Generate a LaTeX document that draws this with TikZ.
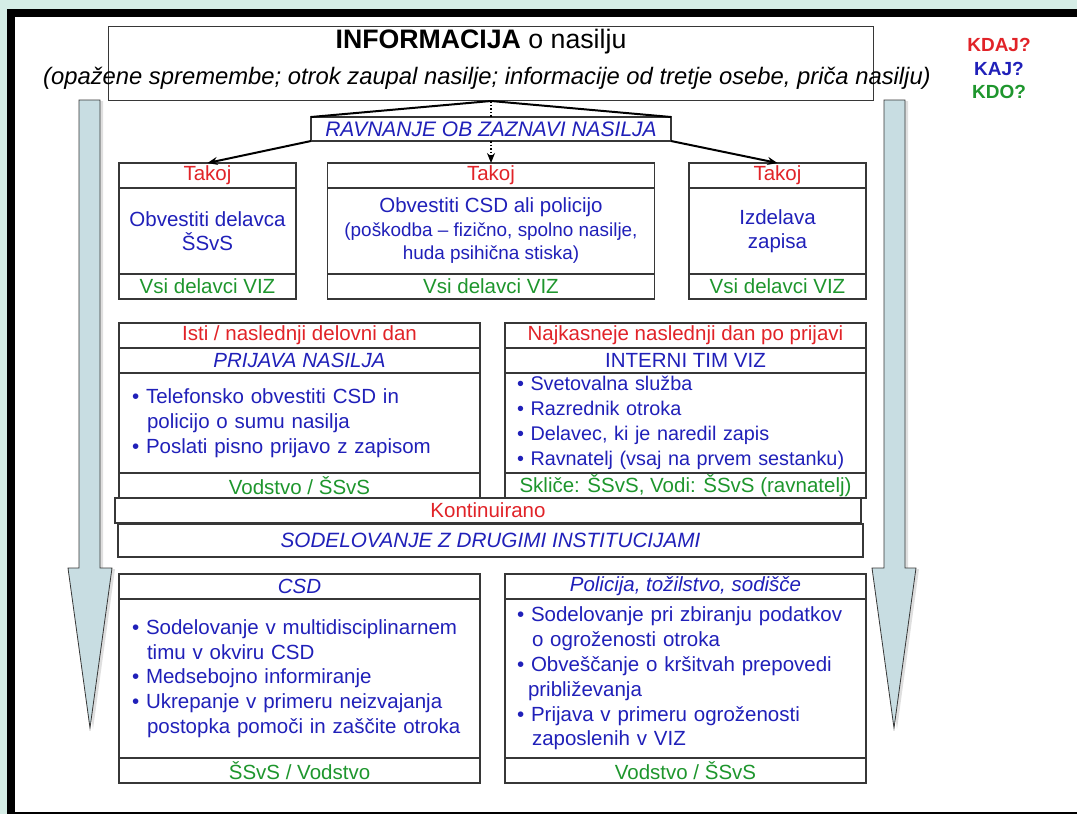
\documentclass[tikz,border=0pt]{standalone}
\usepackage{fontspec}
\setmainfont{Liberation Sans}
\usetikzlibrary{positioning, arrows.meta, shadows}
\definecolor{bgcol}{RGB}{213,237,230}
\definecolor{linecol}{RGB}{55,55,55}
\definecolor{whencol}{RGB}{225,35,40}
\definecolor{whatcol}{RGB}{32,32,185}
\definecolor{whocol}{RGB}{30,150,45}
\definecolor{arrowcol}{RGB}{200,221,226}
\newcommand{\cellsize}{\fontsize{20.5}{24.8}\selectfont}
\newcommand{\listsize}{\fontsize{19.8}{24.8}\selectfont}
\newcommand{\mainsize}{\fontsize{20.5}{23.5}\selectfont}
\newcommand{\smallsize}{\fontsize{18.9}{22.5}\selectfont}
\newcommand{\bitem}{\textbullet\ }
\newcommand{\contline}{\hspace*{15pt}}
\hyphenpenalty=10000

\begin{document}
\begin{tikzpicture}[
			x=1pt, y=-1pt,
			cell/.style={
				draw=linecol,
				line width=1.1pt,
				fill=white,
				inner sep=0pt,
				outer sep=0pt,
				font=\cellsize,
				align=center
			},
			when/.style={cell, text=whencol, minimum height=25pt},
			what/.style={cell, text=whatcol},
			who/.style={cell, text=whocol, minimum height=25pt},
			list/.style={what, align=left, inner xsep=13pt},
			flow/.style={
				-{Stealth[length=10pt, width=8pt]},
				line width=2pt
			},
			bigarrow/.style={
				fill=arrowcol,
				draw=linecol,
				line width=0.8pt,
				drop shadow={shadow xshift=3pt, shadow yshift=-1pt, opacity=0.25}
			}
			]
			% Frame
			\fill[bgcol] (0,0) rectangle (1077,814);
			\fill[black] (7,9) rectangle (1077,814);
			\fill[white] (15,17) rectangle (1077,812);
			\useasboundingbox (0,0) rectangle (1077,814);
			
			% Time arrows
			\draw[bigarrow] (79,100) -- (100,100) -- (100,568) -- (112,568) -- (90,728) -- (68,568) -- (79,568) -- cycle;
			\draw[bigarrow] (884,100) -- (905,100) -- (905,568) -- (916,568) -- (894,728) -- (872,568) -- (884,568) -- cycle;
			
			% Information
			\node[draw=linecol, line width=1pt, minimum width=765pt, minimum height=74pt, anchor=north] (info) at (491,26) {};
			\node[anchor=base, font=\fontsize{26.7}{30}\selectfont] (infotitle) at (481,48) {\textbf{INFORMACIJA} o nasilju};
			\node[anchor=base, font=\fontsize{23.8}{27}\selectfont\itshape] (infonote) at (487,84) {(opažene spremembe; otrok zaupal nasilje; informacije od tretje osebe, priča nasilju)};
			\node[what, font=\fontsize{21}{24}\selectfont\itshape, minimum width=360pt, minimum height=24pt] (ravn) at (491,129) {RAVNANJE OB ZAZNAVI NASILJA};
			
			% Questions
			\node[anchor=base, font=\fontsize{19}{23}\selectfont\bfseries, text=whencol] (kdaj) at (999,51) {KDAJ?};
			\node[anchor=base, font=\fontsize{19}{23}\selectfont\bfseries, text=whatcol] (kaj) at (999,75) {KAJ?};
			\node[anchor=base, font=\fontsize{19}{23}\selectfont\bfseries, text=whocol] (kdo) at (999,98) {KDO?};
			
			% Immediate steps
			\node[when, minimum width=177pt, anchor=north] (t1when) at (207.5,163) {Takoj};
			\node[what, font=\mainsize, minimum width=177pt, minimum height=86pt, below=0pt of t1when] (t1what) {Obvestiti delavca\\ŠSvS};
			\node[who, minimum width=177pt, below=0pt of t1what] (t1who) {Vsi delavci VIZ};
			
			\node[when, minimum width=327pt, anchor=north] (t2when) at (491,163) {Takoj};
			\node[what, font=\mainsize, minimum width=327pt, minimum height=86pt, below=0pt of t2when] (t2what) {Obvestiti CSD ali policijo\\{\smallsize (poškodba – fizično, spolno nasilje,}\\{\smallsize huda psihična stiska)}};
			\node[who, minimum width=327pt, below=0pt of t2what] (t2who) {Vsi delavci VIZ};
			
			\node[when, minimum width=177pt, anchor=north] (t3when) at (777.5,163) {Takoj};
			\node[what, font=\mainsize, minimum width=177pt, minimum height=86pt, below=0pt of t3when] (t3what) {Izdelava\\zapisa};
			\node[who, minimum width=177pt, below=0pt of t3what] (t3who) {Vsi delavci VIZ};
			
			% Connectors
			\draw[line width=2pt] (info.south) -- (ravn.north west);
			\draw[line width=2pt] (info.south) -- (ravn.north east);
			\draw[flow] (ravn.south west) -- (t1when.north);
			\draw[flow] (ravn.south east) -- (t3when.north);
			\draw[line width=1.6pt, dotted] (info.south) -- (ravn.north);
			\draw[flow, line width=1.6pt, dotted] (ravn.south) -- (t2when.north);
			
			% Report and internal team
			\node[when, minimum width=361pt, anchor=north] (p1when) at (299.5,323) {Isti / naslednji delovni dan};
			\node[what, font=\cellsize\itshape, minimum width=361pt, minimum height=25pt, below=0pt of p1when] (p1what) {PRIJAVA NASILJA};
			\node[list, text width=335pt, minimum height=100pt, below=0pt of p1what] (p1list) {\bitem Telefonsko obvestiti CSD in\\\contline policijo o sumu nasilja\\\bitem Poslati pisno prijavo z zapisom};
			\node[who, minimum width=361pt, below=0pt of p1list] (p1who) {Vodstvo / ŠSvS};
			
			\node[when, minimum width=361pt, anchor=north] (p2when) at (685.5,323) {Najkasneje naslednji dan po prijavi};
			\node[what, minimum width=361pt, minimum height=25pt, below=0pt of p2when] (p2what) {INTERNI TIM VIZ};
			\node[list, font=\listsize, inner xsep=12pt, text width=337pt, minimum height=100pt, below=0pt of p2what] (p2list) {\bitem Svetovalna služba\\\bitem Razrednik otroka\\\bitem Delavec, ki je naredil zapis\\\bitem Ravnatelj (vsaj na prvem sestanku)};
			\node[who, minimum width=361pt, below=0pt of p2list] (p2who) {Skliče: ŠSvS, Vodi: ŠSvS (ravnatelj)};
			
			% Cooperation
			\node[when, minimum width=746pt, anchor=north] (kwhen) at (488,498) {Kontinuirano};
			\node[what, font=\fontsize{20.7}{25}\selectfont\itshape, minimum width=745pt, minimum height=33pt, anchor=north] (kwhat) at (490.5,524) {SODELOVANJE Z DRUGIMI INSTITUCIJAMI};
			
			\node[what, font=\cellsize\itshape, minimum width=361pt, minimum height=25pt, anchor=north] (c1what) at (299.5,574) {CSD};
			\node[list, text width=335pt, minimum height=159pt, below=0pt of c1what] (c1list) {\bitem Sodelovanje v multidisciplinarnem\\\contline timu v okviru CSD\\\bitem Medsebojno informiranje\\\bitem Ukrepanje v primeru neizvajanja\\\contline postopka pomoči in zaščite otroka};
			\node[who, minimum width=361pt, below=0pt of c1list] (c1who) {ŠSvS / Vodstvo};
			
			\node[what, font=\cellsize\itshape, minimum width=361pt, minimum height=25pt, anchor=north] (c2what) at (685.5,574) {Policija, tožilstvo, sodišče};
			\node[list, inner xsep=12pt, text width=337pt, minimum height=159pt, below=0pt of c2what] (c2list) {\bitem Sodelovanje pri zbiranju podatkov\\\contline o ogroženosti otroka\\\bitem Obveščanje o kršitvah prepovedi\\\hspace*{11pt}približevanja\\\bitem Prijava v primeru ogroženosti\\\contline zaposlenih v VIZ};
			\node[who, minimum width=361pt, below=0pt of c2list] (c2who) {Vodstvo / ŠSvS};
		\end{tikzpicture}
\end{document}
